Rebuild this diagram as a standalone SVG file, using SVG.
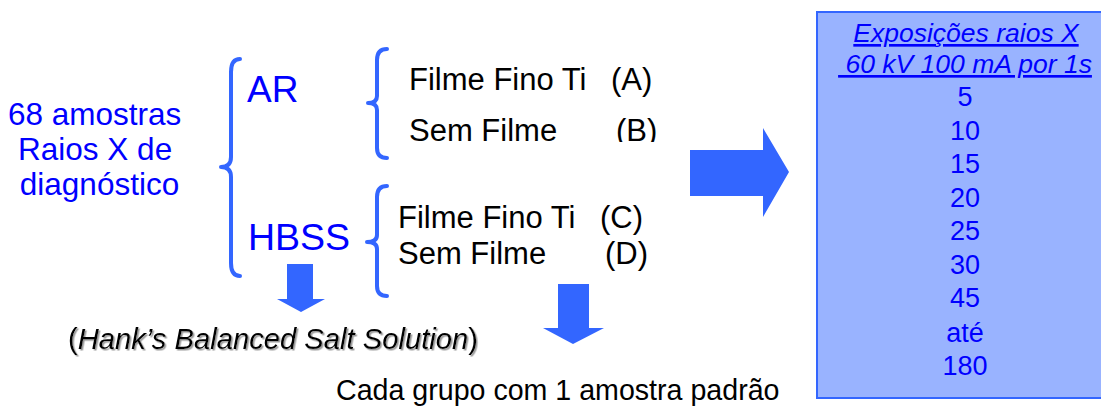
<svg xmlns="http://www.w3.org/2000/svg" width="1101" height="407" viewBox="0 0 1101 407">
  <style>
    .sans { font-family: "Liberation Sans", Arial, sans-serif; }
    .blue { fill: #0000FF; }
    .black { fill: #000000; }
    .brace { fill: none; stroke: #3366FF; stroke-width: 4; stroke-linecap: round; stroke-linejoin: round; }
    .arrow { fill: #3366FF; stroke: none; }
    .num { font-size: 27px; text-anchor: middle; }
  </style>
  <defs>
    <clipPath id="clipB">
      <rect x="380" y="100" width="300" height="42"/>
    </clipPath>
    <filter id="shadow" x="-5%" y="-20%" width="110%" height="150%">
      <feDropShadow dx="1.5" dy="1.5" stdDeviation="0.6" flood-color="#9a9a9a" flood-opacity="1"/>
    </filter>
  </defs>

  <g id="samples">
    <text class="sans blue" font-size="31.5" text-anchor="middle">
      <tspan x="99" y="125">68 amostras</tspan>
      <tspan x="99.5" y="160">Raios X de</tspan>
      <tspan x="99.5" y="195">diagnóstico</tspan>
    </text>
  </g>

  <g id="brace-main">
    <path class="brace" d="M240,59 Q231,59 231,72 L231,157 Q231,167 221,167 Q231,167 231,177 L231,263 Q231,276 240,276"/>
  </g>

  <g id="node-AR">
    <text class="sans blue" x="247" y="102" font-size="37">AR</text>
  </g>

  <g id="node-HBSS">
    <text class="sans blue" x="248" y="250" font-size="37.5">HBSS</text>
  </g>

  <g id="brace-AR">
    <path class="brace" d="M387,49 Q377,49 377,60 L377,96 Q377,103 368,103 Q377,103 377,110 L377,148 Q377,158 387,158"/>
  </g>

  <g id="brace-HBSS">
    <path class="brace" d="M387,186 Q377,186 377,197 L377,235 Q377,242 367,242 Q377,242 377,249 L377,286 Q377,296 387,296"/>
  </g>

  <g id="group-A">
    <text class="sans black" y="90" font-size="31"><tspan x="409">Filme Fino Ti </tspan><tspan x="611">(A)</tspan></text>
  </g>
  <g id="group-B">
    <text class="sans black" y="141" font-size="31" clip-path="url(#clipB)"><tspan x="409">Sem Filme </tspan><tspan x="616">(B)</tspan></text>
  </g>
  <g id="group-C">
    <text class="sans black" y="228" font-size="31"><tspan x="398">Filme Fino Ti </tspan><tspan x="600">(C)</tspan></text>
  </g>
  <g id="group-D">
    <text class="sans black" y="264" font-size="31"><tspan x="398">Sem Filme </tspan><tspan x="605">(D)</tspan></text>
  </g>

  <g id="connectors">
    <polygon class="arrow" points="690,150 763,150 763,128 789,172 763,217 763,196 690,196"/>
    <polygon class="arrow" points="287,264 313,264 313,299 325,299 301,312 277,299 287,299"/>
    <polygon class="arrow" points="558,284 589,284 589,328 604,328 573,344 543,328 558,328"/>
  </g>

  <g id="hbss-note">
    <text class="sans black" x="68" y="349" font-size="29.2" filter="url(#shadow)">(<tspan font-style="italic">Hank’s Balanced Salt Solution</tspan>)</text>
  </g>

  <g id="standard-note">
    <text class="sans black" x="336" y="400" font-size="28.6">Cada grupo com 1 amostra padrão</text>
  </g>

  <g id="exposures">
    <rect x="817" y="12" width="290" height="386" fill="#99B3FF" stroke="#3366FF" stroke-width="2"/>
    <text class="sans blue" x="966" y="42" font-size="26.5" font-style="italic" text-anchor="middle" text-decoration="underline">Exposições raios X</text>
    <text class="sans blue" x="965" y="73" font-size="26.5" font-style="italic" text-anchor="middle" text-decoration="underline" style="white-space:pre"> 60 kV 100 mA por 1s</text>
    <text class="sans blue num" x="965" y="106">5</text>
    <text class="sans blue num" x="965" y="140">10</text>
    <text class="sans blue num" x="965" y="173">15</text>
    <text class="sans blue num" x="965" y="207">20</text>
    <text class="sans blue num" x="965" y="240">25</text>
    <text class="sans blue num" x="965" y="274">30</text>
    <text class="sans blue num" x="965" y="307">45</text>
    <text class="sans blue num" x="965" y="342">até</text>
    <text class="sans blue num" x="965" y="375">180</text>
  </g>
</svg>
